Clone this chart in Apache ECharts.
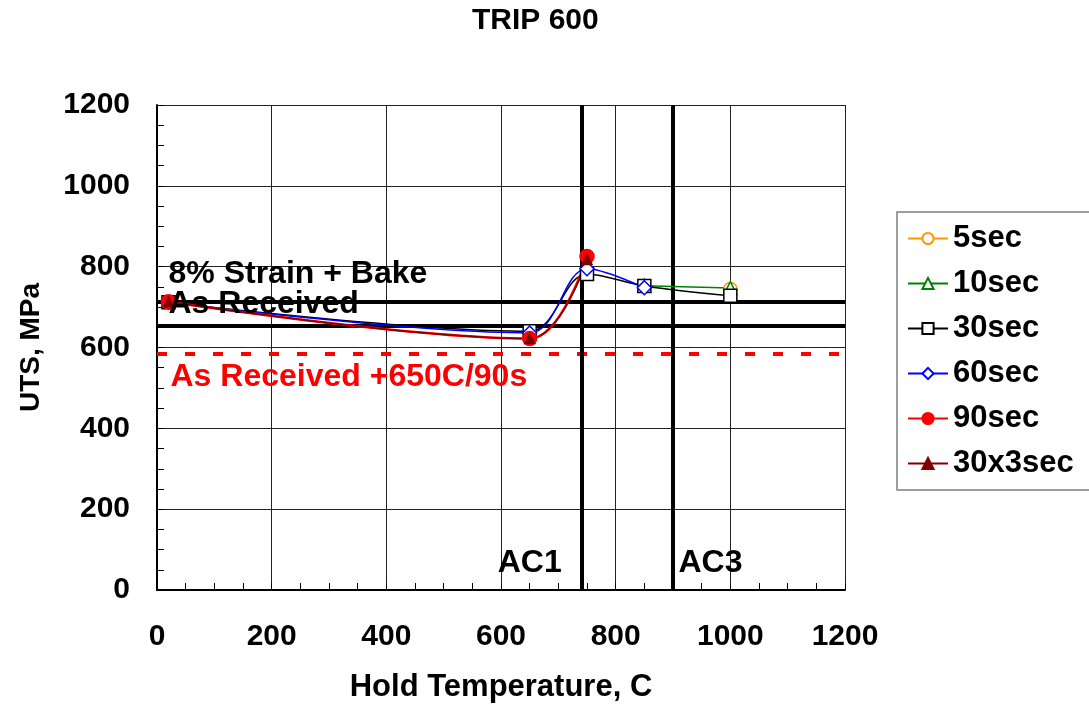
<!DOCTYPE html>
<html>
<head>
<meta charset="utf-8">
<script src="https://cdn.jsdelivr.net/npm/echarts@6/dist/echarts.min.js"></script>
<style>
html,body{margin:0;padding:0;background:#fff;}
#c{width:1089px;height:712px;}
</style>
</head>
<body>
<div id="c"></div>
<script>
// ---- data ----
const seriesNames = ['5sec', '10sec', '30sec', '60sec', '90sec', '30x3sec'];
const s5sec   = [[1000, 745]];
const s10sec  = [[850, 753], [1000, 747]];
const s30sec  = [[20, 712], [650, 640], [750, 782], [850, 752], [1000, 728]];
const s60sec  = [[20, 712], [650, 636], [750, 795], [850, 748]];
const s90sec  = [[20, 713], [650, 622], [750, 825]];
const s30x3   = [[20, 713], [650, 622], [750, 818]];
const xTicks = [0, 200, 400, 600, 800, 1000, 1200];
const yTicks = [0, 200, 400, 600, 800, 1000, 1200];
const strainBakeLevel = 713;
const asReceivedLevel = 653;
const ar650Level = 584;
const ac1Temp = 740;
const ac3Temp = 900;
const noteTexts = ['8% Strain + Bake', 'As Received', 'As Received +650C/90s', 'AC1', 'AC3'];

// ---- chart ----
const FONT = '"Liberation Sans", Arial, sans-serif';
const chart = echarts.init(document.getElementById('c'), null, {renderer: 'canvas'});

function lineSeries(name, data, color, symbol, size, fill, width) {
  return {
    name: name, type: 'line', data: data, smooth: 0.35,
    symbol: symbol, symbolSize: size, showAllSymbol: true,
    lineStyle: {color: color, width: width},
    itemStyle: {color: fill, borderColor: color, borderWidth: 1.5},
    emphasis: {disabled: true}, z: 5
  };
}

const noteLabel = (text, color, dx, dy, align) => ({
  show: true, formatter: text, position: [dx, dy], align: align, verticalAlign: 'middle',
  fontFamily: FONT, fontWeight: 'bold', fontSize: 32, color: color, opacity: 1
});

const plain = v => String(v);

const option = {
  backgroundColor: '#fff',
  animation: false,
  title: {
    text: 'TRIP 600', left: 472, top: 6, padding: 0,
    textStyle: {fontFamily: FONT, fontWeight: 'bold', fontSize: 30, color: '#000'}
  },
  grid: {left: 157, right: 244, top: 105, bottom: 122, show: false},
  legend: {
    data: seriesNames, orient: 'vertical', left: 897, top: 212,
    padding: [11, 30, 11, 10], itemGap: 14, itemWidth: 40, itemHeight: 14,
    borderColor: '#7f7f7f', borderWidth: 1.5, backgroundColor: '#fff',
    textStyle: {fontFamily: FONT, fontWeight: 'bold', fontSize: 31, color: '#000'},
    selectedMode: false
  },
  xAxis: {
    type: 'value', min: xTicks[0], max: xTicks[xTicks.length - 1], interval: 200,
    name: 'Hold Temperature, C', nameLocation: 'middle', nameGap: 82,
    nameTextStyle: {fontFamily: FONT, fontWeight: 'bold', fontSize: 31, color: '#000'},
    axisLine: {show: true, lineStyle: {color: '#000', width: 2}},
    axisTick: {show: true, inside: true, length: 7, lineStyle: {color: '#000', width: 1}},
    minorTick: {show: true, splitNumber: 4, length: 7, lineStyle: {color: '#000', width: 1}},
    splitLine: {show: true, lineStyle: {color: '#222', width: 1}},
    axisLabel: {margin: 32, formatter: plain, fontFamily: FONT, fontWeight: 'bold', fontSize: 30, color: '#000'}
  },
  yAxis: {
    type: 'value', min: yTicks[0], max: yTicks[yTicks.length - 1], interval: 200,
    name: 'UTS, MPa', nameLocation: 'middle', nameGap: 112,
    nameTextStyle: {fontFamily: FONT, fontWeight: 'bold', fontSize: 28, color: '#000'},
    axisLine: {show: true, lineStyle: {color: '#000', width: 2}},
    axisTick: {show: true, inside: true, length: 7, lineStyle: {color: '#000', width: 1}},
    minorTick: {show: true, splitNumber: 4, length: 7, lineStyle: {color: '#000', width: 1}},
    splitLine: {show: true, lineStyle: {color: '#222', width: 1}},
    axisLabel: {margin: 27, formatter: plain, fontFamily: FONT, fontWeight: 'bold', fontSize: 30, color: '#000'}
  },
  series: [
    {
      name: 'refs', type: 'line', data: [], silent: true, z: 3,
      markLine: {
        silent: true, symbol: 'none', animation: false,
        label: {show: false},
        data: [
          {yAxis: strainBakeLevel, lineStyle: {color: '#000', width: 4, type: 'solid'}},
          {yAxis: asReceivedLevel, lineStyle: {color: '#000', width: 4, type: 'solid'}},
          {yAxis: ar650Level, lineStyle: {color: '#ff0000', width: 4, type: [10, 18]}},
          {xAxis: ac1Temp, lineStyle: {color: '#000', width: 4, type: 'solid'}},
          {xAxis: ac3Temp, lineStyle: {color: '#000', width: 4, type: 'solid'}}
        ]
      }
    },
    lineSeries('5sec', s5sec, '#ff9900', 'circle', 13, '#fff', 1.5),
    lineSeries('10sec', s10sec, '#008000', 'triangle', 13, '#fff', 1.5),
    lineSeries('30sec', s30sec, '#000000', 'rect', 13, '#fff', 1.5),
    lineSeries('60sec', s60sec, '#0000ff', 'diamond', 14, '#fff', 1.5),
    lineSeries('90sec', s90sec, '#ff0000', 'circle', 14, '#ff0000', 2.5),
    lineSeries('30x3sec', s30x3, '#800000', 'triangle', 10, '#800000', 1.5),
    {
      name: 'notes', type: 'scatter', silent: true, z: 10,
      symbolSize: 1, itemStyle: {color: 'rgba(0,0,0,0)', opacity: 1},
      data: [
        {value: [xTicks[0], strainBakeLevel], label: noteLabel(noteTexts[0], '#000', 12, -27, 'left')},
        {value: [xTicks[0], asReceivedLevel], label: noteLabel(noteTexts[1], '#000', 12, -21, 'left')},
        {value: [xTicks[0], ar650Level], label: noteLabel(noteTexts[2], '#ff0000', 14, 24, 'left')},
        {value: [ac1Temp, yTicks[0]], label: noteLabel(noteTexts[3], '#000', -19, -26, 'right')},
        {value: [ac3Temp, yTicks[0]], label: noteLabel(noteTexts[4], '#000', 6, -26, 'left')}
      ]
    }
  ]
};
chart.setOption(option);
</script>
</body>
</html>
